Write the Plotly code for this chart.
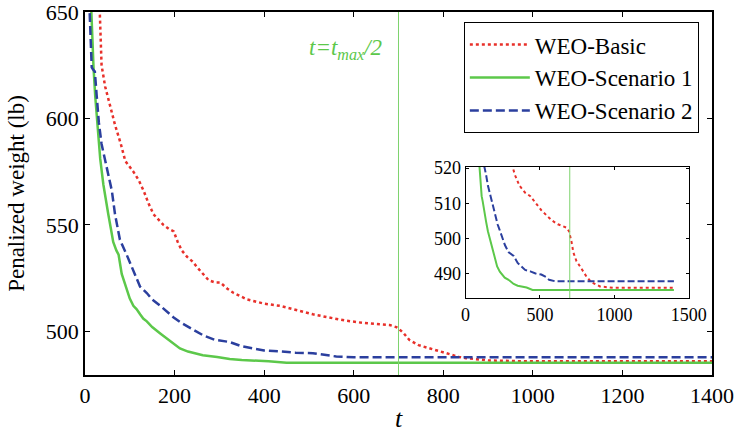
import plotly.graph_objects as go

# ---------------- data ----------------
t_basic = [30, 33, 37, 45, 56, 67, 80, 90, 108, 120, 131, 142, 153, 165, 175, 188, 198, 207, 216, 228,
           239, 255, 276, 290, 302, 318, 332, 362, 400, 435, 470, 509, 545, 583, 620, 657, 680, 695,
           702, 712, 724, 745, 769, 790, 814, 835, 851, 880, 903, 950, 989, 1100, 1200, 1300, 1400]
w_basic = [660, 650, 625, 615, 606, 597, 588, 580, 575, 571, 566, 560, 555, 552, 550, 548, 547, 542, 538, 535,
           533, 529, 524, 523, 523, 520, 518, 515, 513, 512, 510, 508, 506.5, 505, 504, 503.5, 503, 502,
           501, 499, 496, 493.5, 492, 490.5, 489, 488, 487.4, 486.8, 486.3, 486.1, 485.9, 485.9, 485.9, 485.9, 485.9]

t_s1 = [5, 12, 15, 19, 23, 26, 30, 34, 41, 46, 52, 58, 63, 70, 75, 82, 88, 93, 100, 108, 115, 123, 130,
        138, 150, 168, 182, 198, 212, 230, 263, 295, 323, 350, 375, 410, 450, 500, 700, 1000, 1400]
w_s1 = [700, 660, 650, 624, 610, 601, 590, 581, 569, 562, 555, 548, 542, 538, 536, 527, 523, 519, 515.4,
        512, 510.5, 508, 506, 504.7, 502, 499, 496.7, 494, 492, 490.5, 488.8, 488, 487, 486.5, 486.3,
        486, 485.3, 485.3, 485.3, 485.3, 485.3]

t_s2 = [5, 11, 15, 18, 22, 26, 31, 37, 48, 60, 67, 78, 93, 105, 115, 123, 138, 150, 168, 185, 198, 215,
        228, 249, 265, 290, 323, 350, 375, 400, 435, 470, 509, 540, 561, 600, 800, 1000, 1400]
w_s2 = [680, 646, 624, 623, 622, 611, 598, 588, 578, 566, 555, 543, 536, 530, 525, 521, 518, 515, 512,
        509, 506.5, 504, 502.5, 500, 498, 496, 495, 493, 492, 491, 490.6, 490, 489.7, 489, 488.2, 487.8,
        487.8, 487.8, 487.8]

series_names = ["WEO-Basic", "WEO-Scenario 1", "WEO-Scenario 2"]
x_ticks = [0, 200, 400, 600, 800, 1000, 1200, 1400]
y_ticks = [500, 550, 600, 650]
inset_x_ticks = [0, 500, 1000, 1500]
inset_y_ticks = [490, 500, 510, 520]
t_half = 700

# ---------------- styling ----------------
FONT = "Liberation Serif"
RED = "#e8302a"
GREEN = "#5cc84a"
BLUE = "#2b3f9e"
styles = [dict(color=RED, width=2.5, dash="dot"),
          dict(color=GREEN, width=2.5, dash="solid"),
          dict(color=BLUE, width=2.5, dash="9px,4px")]
data = [(t_basic, w_basic), (t_s1, w_s1), (t_s2, w_s2)]

fig = go.Figure()
for (tx, wy), name, st in zip(data, series_names, styles):
    fig.add_trace(go.Scatter(x=tx, y=wy, mode="lines", name=name, line=st,
                             xaxis="x", yaxis="y"))
for (tx, wy), name, st in zip(data, series_names, styles):
    st2 = dict(st)
    st2["width"] = 2
    if st2["dash"] == "9px,4px":
        st2["dash"] = "7px,3px"
    fig.add_trace(go.Scatter(x=tx, y=wy, mode="lines", name=name, line=st2,
                             xaxis="x2", yaxis="y2", showlegend=False))

axis_common = dict(showline=True, linecolor="black", linewidth=1.5, mirror="ticks",
                   ticks="inside", ticklen=5, tickcolor="black", showgrid=False, zeroline=False,
                   automargin=False, ticklabeloverflow="allow")

fig.update_layout(
    template="none",
    width=739, height=433,
    margin=dict(l=85, r=27, t=12, b=58),
    paper_bgcolor="white", plot_bgcolor="white",
    font=dict(family=FONT, size=22, color="black"),
    showlegend=True,
    legend=dict(x=0.979, y=0.972, xanchor="right", yanchor="top",
                bordercolor="black", borderwidth=1, bgcolor="white",
                font=dict(family=FONT, size=23, color="black"), itemwidth=60, tracegroupgap=0),
    xaxis=dict(range=[0, 1400], tickvals=x_ticks, domain=[0, 1], anchor="y",
               title=dict(text="<i>t</i>", font=dict(family=FONT, size=26, color="black"), standoff=2),
               tickfont=dict(family=FONT, size=22, color="black"), **axis_common),
    yaxis=dict(range=[479.5, 650], tickvals=y_ticks, domain=[0, 1], anchor="x",
               title=dict(text="Penalized weight (lb)", font=dict(family=FONT, size=23, color="black"),
                          standoff=15),
               tickfont=dict(family=FONT, size=22, color="black"), **axis_common),
    xaxis2=dict(range=[0, 1500], tickvals=inset_x_ticks, domain=[0.607, 0.963], anchor="y2",
                tickfont=dict(family=FONT, size=18, color="black"),
                **{**axis_common, "linewidth": 1.2, "ticklen": 3}),
    yaxis2=dict(range=[483, 520.3], tickvals=inset_y_ticks, domain=[0.212, 0.573], anchor="x2",
                tickfont=dict(family=FONT, size=18, color="black"),
                **{**axis_common, "linewidth": 1.2, "ticklen": 3}),
    shapes=[
        dict(type="line", xref="x", yref="y domain", x0=t_half, x1=t_half, y0=0, y1=1,
             line=dict(color="#7ed36e", width=1)),
        dict(type="line", xref="x2", yref="y2 domain", x0=t_half, x1=t_half, y0=0, y1=1,
             line=dict(color="#7ed36e", width=1)),
    ],
    annotations=[
        dict(text="<i>t=t<sub>max</sub>/2</i>", xref="paper", yref="paper",
             x=0.416, y=0.898, xanchor="center", yanchor="middle", showarrow=False,
             font=dict(family=FONT, size=23, color=GREEN)),
    ],
)

fig.write_html("out.html", config={"displayModeBar": False},
               post_script="document.body.style.margin='0px';")
